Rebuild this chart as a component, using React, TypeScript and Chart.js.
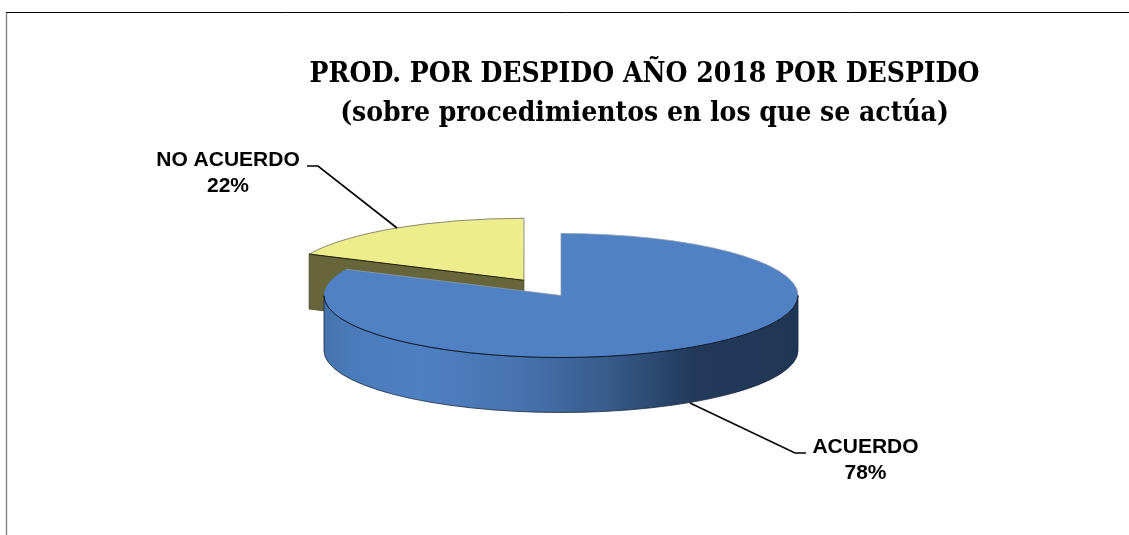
import React, { useEffect, useRef } from "react";
import { Chart, registerables } from "chart.js";

Chart.register(...registerables);

const categories = ["ACUERDO", "NO ACUERDO"];
const values = [78, 22];
const titleLines = ["PROD. POR DESPIDO AÑO 2018 POR DESPIDO", "(sobre procedimientos en los que se actúa)"];
const colors = ["#4f81c4", "#eded8b"];

const W = 1129;
const H = 535;
const CX = 561;
const CY = 295.5;
const RX = 237;
const TILT = 62 / 237;
const DEPTH = 55;
const EXPLODE = 276;
// The 3D view foreshortens the slices, so the first one looks wider than its share.
const FORESHORTEN = 295 / 280.8;

const project = (arc: any, angle: number, r: number, dz = 0) => {
  const off = (arc.options.offset || 0) / 4;
  const mid = (arc.startAngle + arc.endAngle) / 2;
  const X = Math.cos(angle) * r + Math.cos(mid) * off;
  const Y = Math.sin(angle) * r + Math.sin(mid) * off;
  return { x: CX + X, y: CY + Y * TILT + dz };
};

const pie3d = {
  id: "pie3d",
  beforeDraw(chart: any) {
    const { ctx } = chart;
    ctx.save();
    ctx.fillStyle = "#ffffff";
    ctx.fillRect(0, 0, W, H);
    ctx.strokeStyle = "#8a8a8a";
    ctx.lineWidth = 1.5;
    ctx.beginPath();
    ctx.moveTo(6.5, 13);
    ctx.lineTo(6.5, H);
    ctx.stroke();
    ctx.strokeStyle = "#000000";
    ctx.lineWidth = 1;
    ctx.beginPath();
    ctx.moveTo(6, 12.5);
    ctx.lineTo(W, 12.5);
    ctx.stroke();
    ctx.restore();
  },
  afterDatasetsUpdate(chart: any) {
    const [first, second] = chart.getDatasetMeta(0).data;
    const end = first.startAngle + (first.endAngle - first.startAngle) * FORESHORTEN;
    first.endAngle = end;
    first.circumference = end - first.startAngle;
    second.startAngle = end;
    second.circumference = second.endAngle - end;
    // The arc element grows an offset slice a little; cancel that so both slices share one radius.
    const fix = 1 - Math.sin(Math.min(Math.PI, second.circumference));
    second.outerRadius = first.outerRadius - (EXPLODE / 4) * fix;
  },
  beforeDatasetsDraw(chart: any) {
    const { ctx } = chart;
    const [first, second] = chart.getDatasetMeta(0).data;
    const rx = first.outerRadius;
    const ry = rx * TILT;

    // cut wall of the exploded slice
    const apex = project(second, 0, 0);
    const corner = project(second, second.startAngle, rx);
    ctx.save();
    ctx.fillStyle = "#66663a";
    ctx.strokeStyle = "#4a4a28";
    ctx.lineWidth = 0.8;
    ctx.beginPath();
    ctx.moveTo(corner.x, corner.y);
    ctx.lineTo(apex.x, apex.y);
    ctx.lineTo(apex.x, apex.y + DEPTH);
    ctx.lineTo(corner.x, corner.y + DEPTH);
    ctx.closePath();
    ctx.fill();
    ctx.stroke();

    // outer wall of the main slice
    const grad = ctx.createLinearGradient(CX - rx, 0, CX + rx, 0);
    grad.addColorStop(0, "#4474ad");
    grad.addColorStop(0.06, "#4a7cbc");
    grad.addColorStop(0.2, "#4e80c2");
    grad.addColorStop(0.4, "#4774b0");
    grad.addColorStop(0.6, "#375b8a");
    grad.addColorStop(0.78, "#22395a");
    grad.addColorStop(1, "#203655");
    ctx.fillStyle = grad;
    ctx.beginPath();
    ctx.ellipse(CX, CY, rx, ry, 0, 0, Math.PI);
    ctx.lineTo(CX - rx, CY + DEPTH);
    ctx.ellipse(CX, CY + DEPTH, rx, ry, 0, Math.PI, 0, true);
    ctx.closePath();
    ctx.fill();
    ctx.strokeStyle = "#1a2a40";
    ctx.lineWidth = 0.8;
    ctx.stroke();
    ctx.restore();

    // squash the library's own arcs into the tilted plane
    ctx.save();
    ctx.translate(CX, CY);
    ctx.scale(1, TILT);
    ctx.translate(-first.x, -first.y);
  },
  afterDatasetsDraw(chart: any) {
    const { ctx } = chart;
    ctx.restore();
    const [first, second] = chart.getDatasetMeta(0).data;
    const rx = first.outerRadius;
    const ry = rx * TILT;

    // main slice outline
    const c0 = project(first, first.endAngle, rx);
    ctx.save();
    ctx.strokeStyle = "#8c9ab0";
    ctx.lineWidth = 0.8;
    ctx.beginPath();
    ctx.moveTo(CX, CY);
    ctx.lineTo(CX, CY - ry);
    ctx.ellipse(CX, CY, rx, ry, 0, -Math.PI / 2, 0);
    ctx.moveTo(CX, CY);
    ctx.lineTo(c0.x, c0.y);
    ctx.stroke();
    ctx.strokeStyle = "#10192a";
    ctx.lineWidth = 1;
    ctx.beginPath();
    ctx.ellipse(CX, CY, rx, ry, 0, 0, Math.PI);
    ctx.stroke();

    // exploded slice outline
    const apex = project(second, 0, 0);
    const corner = project(second, second.startAngle, rx);
    ctx.strokeStyle = "#8a8a70";
    ctx.beginPath();
    ctx.moveTo(corner.x, corner.y);
    ctx.ellipse(apex.x, apex.y, rx, ry, 0, second.startAngle, second.endAngle);
    ctx.lineTo(apex.x, apex.y);
    ctx.stroke();
    ctx.strokeStyle = "#20200c";
    ctx.beginPath();
    ctx.moveTo(corner.x, corner.y);
    ctx.lineTo(apex.x, apex.y);
    ctx.stroke();

    // leader lines
    ctx.strokeStyle = "#000000";
    ctx.lineWidth = 1.6;
    ctx.beginPath();
    ctx.moveTo(307, 166);
    ctx.lineTo(318, 166);
    ctx.lineTo(397, 228);
    ctx.moveTo(806, 453);
    ctx.lineTo(795, 453);
    ctx.lineTo(690, 403);
    ctx.stroke();

    // data labels
    const data = chart.data.datasets[0].data;
    const labels = chart.data.labels;
    const spots = [
      { x: 865.5, y: 453 },
      { x: 228, y: 166 },
    ];
    ctx.fillStyle = "#000000";
    ctx.font = 'bold 21px "Liberation Sans"';
    ctx.textAlign = "center";
    ctx.textBaseline = "alphabetic";
    labels.forEach((label: string, i: number) => {
      ctx.fillText(label, spots[i].x, spots[i].y);
      ctx.fillText(`${data[i]}%`, spots[i].x, spots[i].y + 26);
    });
    ctx.restore();
  },
};

export default function App() {
  const ref = useRef<HTMLCanvasElement>(null);
  useEffect(() => {
    const chart = new Chart(ref.current as HTMLCanvasElement, {
      type: "pie",
      data: {
        labels: categories,
        datasets: [
          {
            data: values,
            backgroundColor: colors,
            borderWidth: 0,
            offset: [0, EXPLODE],
            hoverOffset: 0,
            clip: false,
          } as any,
        ],
      },
      options: {
        animation: false,
        responsive: false,
        devicePixelRatio: 1,
        radius: RX,
        layout: { padding: { left: 160 } },
        plugins: {
          legend: { display: false },
          tooltip: { enabled: false },
          title: {
            display: true,
            text: titleLines,
            color: "#000000",
            font: { family: '"DejaVu Serif Condensed"', size: 28, weight: "bold", lineHeight: 1.39 },
            padding: { top: 55, bottom: 10 },
          },
        },
      } as any,
      plugins: [pie3d],
    });
    return () => chart.destroy();
  }, []);
  return (
    <div style={{ position: "fixed", left: 0, top: 0, width: W, height: H, background: "#fff" }}>
      <canvas ref={ref} width={W} height={H} style={{ display: "block" }} />
    </div>
  );
}
